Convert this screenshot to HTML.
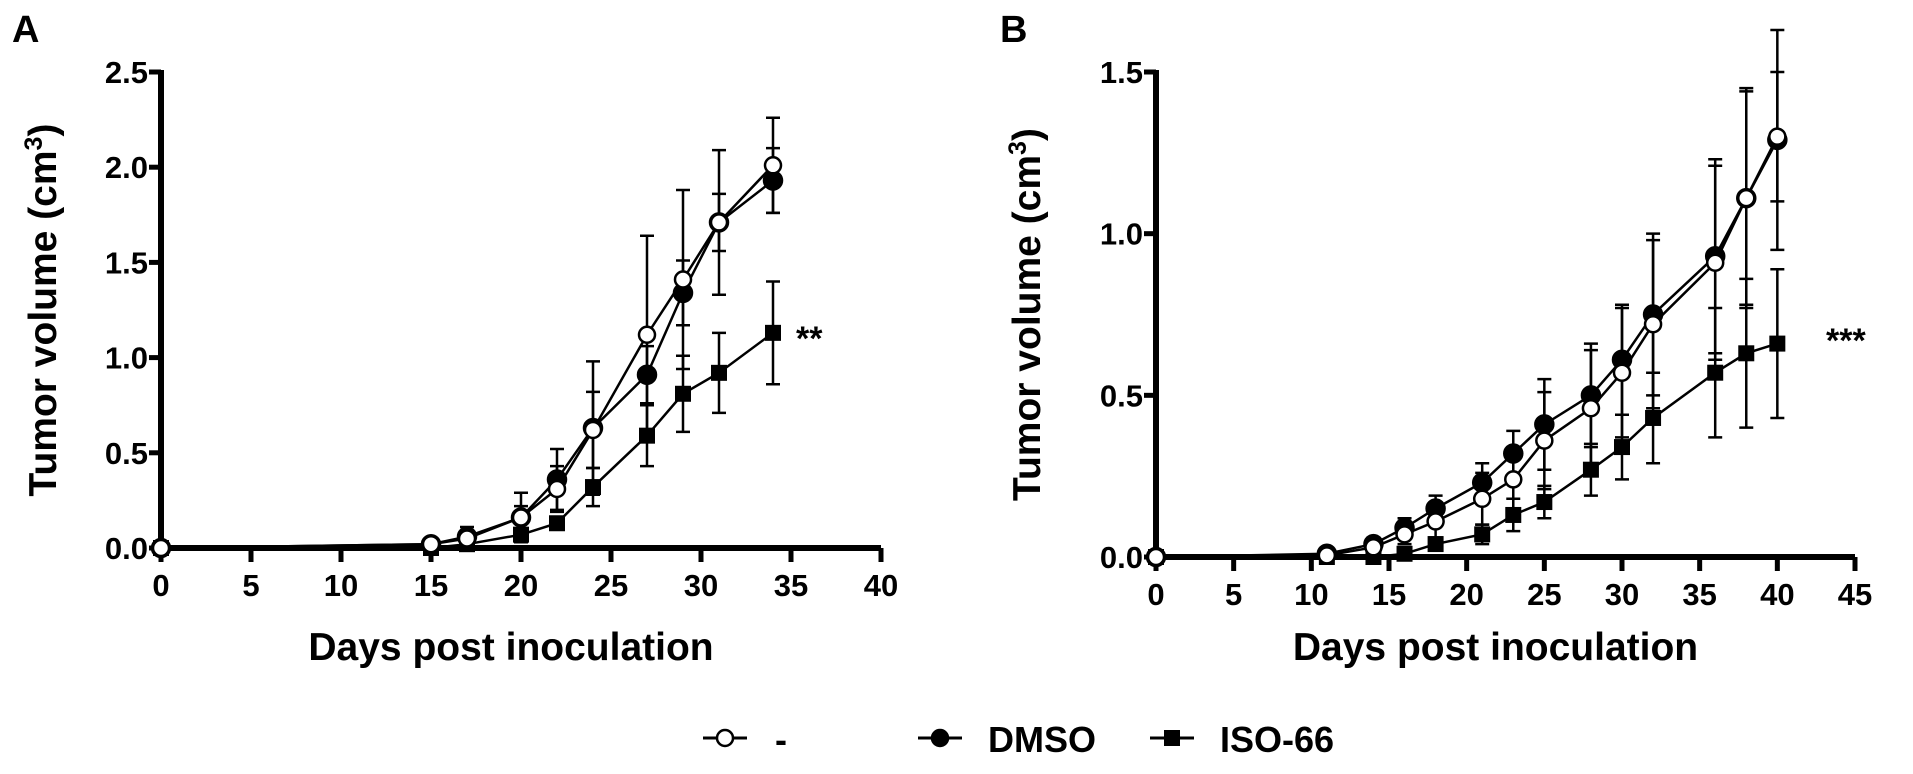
<!DOCTYPE html>
<html><head><meta charset="utf-8"><style>
html,body{margin:0;padding:0;background:#fff;width:1913px;height:774px;overflow:hidden}
svg{display:block}
text{font-family:"Liberation Sans",Arial,sans-serif;font-weight:bold;fill:#000}
</style></head><body>
<svg id="fig" width="1913" height="774" viewBox="0 0 1913 774"></svg>
<script>
// Panel A data
const daysA = [0,15,17,20,22,24,27,29,31,34];
const ctrlA = [0,0.02,0.05,0.16,0.31,0.62,1.12,1.41,1.71,2.01];
const ctrlAErr = [0,0.01,0.03,0.06,0.12,0.2,0.52,0.47,0.38,0.25];
const dmsoA = [0,0.02,0.06,0.16,0.36,0.63,0.91,1.34,1.71,1.93];
const dmsoAErr = [0,0.01,0.05,0.13,0.16,0.35,0.15,0.17,0.15,0.17];
const isoA = [0,0,0.02,0.07,0.13,0.32,0.59,0.81,0.92,1.13];
const isoAErr = [0,0,0.01,0.02,0.03,0.1,0.16,0.2,0.21,0.27];
const xTicksA = [0,5,10,15,20,25,30,35,40];
const yTicksA = ["0.0","0.5","1.0","1.5","2.0","2.5"];
// Panel B data
const daysB = [0,11,14,16,18,21,23,25,28,30,32,36,38,40];
const ctrlB = [0,0.005,0.03,0.07,0.11,0.18,0.24,0.36,0.46,0.57,0.72,0.91,1.11,1.30];
const ctrlBErr = [0,0.005,0.02,0.03,0.05,0.08,0.1,0.15,0.18,0.2,0.26,0.3,0.33,0.2];
const dmsoB = [0,0.01,0.04,0.09,0.15,0.23,0.32,0.41,0.50,0.61,0.75,0.93,1.11,1.29];
const dmsoBErr = [0,0.01,0.02,0.03,0.04,0.06,0.07,0.14,0.16,0.17,0.25,0.3,0.34,0.34];
const isoB = [0,0,0,0.01,0.04,0.07,0.13,0.17,0.27,0.34,0.43,0.57,0.63,0.66];
const isoBErr = [0,0,0,0.01,0.02,0.03,0.05,0.05,0.08,0.1,0.14,0.2,0.23,0.23];
const xTicksB = [0,5,10,15,20,25,30,35,40,45];
const yTicksB = ["0.0","0.5","1.0","1.5"];

const NS="http://www.w3.org/2000/svg";
const svg=document.getElementById('fig');
function mk(tag,attrs,parent){const e=document.createElementNS(NS,tag);for(const k in attrs)e.setAttribute(k,attrs[k]);(parent||svg).appendChild(e);return e;}

function panel(p){
  const g=mk('g',{});
  
  
  const sx=v=>p.x0+(v-p.xmin)/(p.xmax-p.xmin)*(p.x1-p.x0);
  const sy=v=>p.y0-(v/p.ymax)*(p.y0-p.y1);
  const L=mk('text',{x:p.letterX,y:42,'font-size':38},g);L.textContent=p.letter;
  
  
  const ax=mk('path',{d:`M${p.x0},${p.y1-2} V${p.y0} H${p.x1}`,stroke:'#000','stroke-width':6,fill:'none'},g);
  
  
  p.xt.forEach(t=>{
    mk('line',{x1:sx(t),x2:sx(t),y1:p.y0,y2:p.y0+14,stroke:'#000','stroke-width':5},g);
    const tx=mk('text',{x:sx(t),y:p.y0+48,'font-size':31,'text-anchor':'middle'},g);tx.textContent=t;
    
    
  });
  p.yt.forEach(t=>{
    const y=sy(parseFloat(t));
    mk('line',{x1:p.x0-12,x2:p.x0,y1:y,y2:y,stroke:'#000','stroke-width':5},g);
    const ty=mk('text',{x:p.x0-13,y:y+11,'font-size':31,'text-anchor':'end'},g);ty.textContent=t;
    
    
  });
  const xt=mk('text',{x:(p.x0+p.x1)/2-10,y:660,'font-size':39,'text-anchor':'middle'},g);xt.textContent='Days post inoculation';
  
  
  const yt=mk('text',{x:0,y:0,'font-size':39,'text-anchor':'middle',transform:`translate(${p.ytx},${(p.y0+p.y1)/2}) rotate(-90)`},g);
  yt.innerHTML='Tumor volume (cm<tspan dy="-14" font-size="25">3</tspan><tspan dy="14">)</tspan>';
  
  
  p.series.forEach(s=>{
    const sg=mk('g',{},g);
    
    
    s.err.forEach((e,i)=>{
      if(e<=0)return;const x=sx(p.days[i]);
      mk('path',{d:`M${x},${sy(s.vals[i]+e)} V${sy(s.vals[i]-e)} M${x-7},${sy(s.vals[i]+e)} h14 M${x-7},${sy(s.vals[i]-e)} h14`,stroke:'#000','stroke-width':2.5,fill:'none'},sg);
    });
    const pts=s.vals.map((v,i)=>sx(p.days[i])+','+sy(v)).join(' ');
    mk('polyline',{points:pts,fill:'none',stroke:'#000','stroke-width':2.5},sg);
    s.vals.forEach((v,i)=>{
      const x=sx(p.days[i]),y=sy(v);let m;
      if(s.key==='iso')m=mk('rect',{x:x-8,y:y-8,width:16,height:16,fill:'#000'},sg);
      else m=mk('circle',{cx:x,cy:y,r:s.key==='ctrl'?8:9,fill:s.key==='ctrl'?'#fff':'#000',stroke:'#000','stroke-width':2.5},sg);
      
      
    });
  });
  const st=mk('text',{x:p.starX,y:p.starY,'font-size':34},g);st.textContent=p.star;
  
  
}

panel({name:'panel-a',letter:'A',letterX:12,x0:161,x1:881,xmin:0,xmax:40,y0:548,y1:72,ymax:2.5,xt:xTicksA,yt:yTicksA,ytx:56,days:daysA,
  series:[{key:'iso',vals:isoA,err:isoAErr},{key:'dmso',vals:dmsoA,err:dmsoAErr},{key:'ctrl',vals:ctrlA,err:ctrlAErr}],star:'**',starX:796,starY:350});
panel({name:'panel-b',letter:'B',letterX:1000,x0:1156,x1:1855,xmin:0,xmax:45,y0:557,y1:72,ymax:1.5,xt:xTicksB,yt:yTicksB,ytx:1040,days:daysB,
  series:[{key:'iso',vals:isoB,err:isoBErr},{key:'dmso',vals:dmsoB,err:dmsoBErr},{key:'ctrl',vals:ctrlB,err:ctrlBErr}],star:'***',starX:1826,starY:352});

const lg=mk('g',{});


const items=[{k:'ctrl',x:725,label:'-',tx:775},{k:'dmso',x:940,label:'DMSO',tx:988},{k:'iso',x:1172,label:'ISO-66',tx:1220}];
items.forEach(it=>{
  const e=mk('g',{},lg);
  
  
  mk('line',{x1:it.x-22,x2:it.x+22,y1:738,y2:738,stroke:'#000','stroke-width':3},e);
  if(it.k==='iso')mk('rect',{x:it.x-8,y:730,width:16,height:16,fill:'#000'},e);
  else mk('circle',{cx:it.x,cy:738,r:8,fill:it.k==='ctrl'?'#fff':'#000',stroke:'#000','stroke-width':2.5},e);
  const t=mk('text',{x:it.tx,y:752,'font-size':36},e);t.textContent=it.label;
});
</script>
</body></html>
